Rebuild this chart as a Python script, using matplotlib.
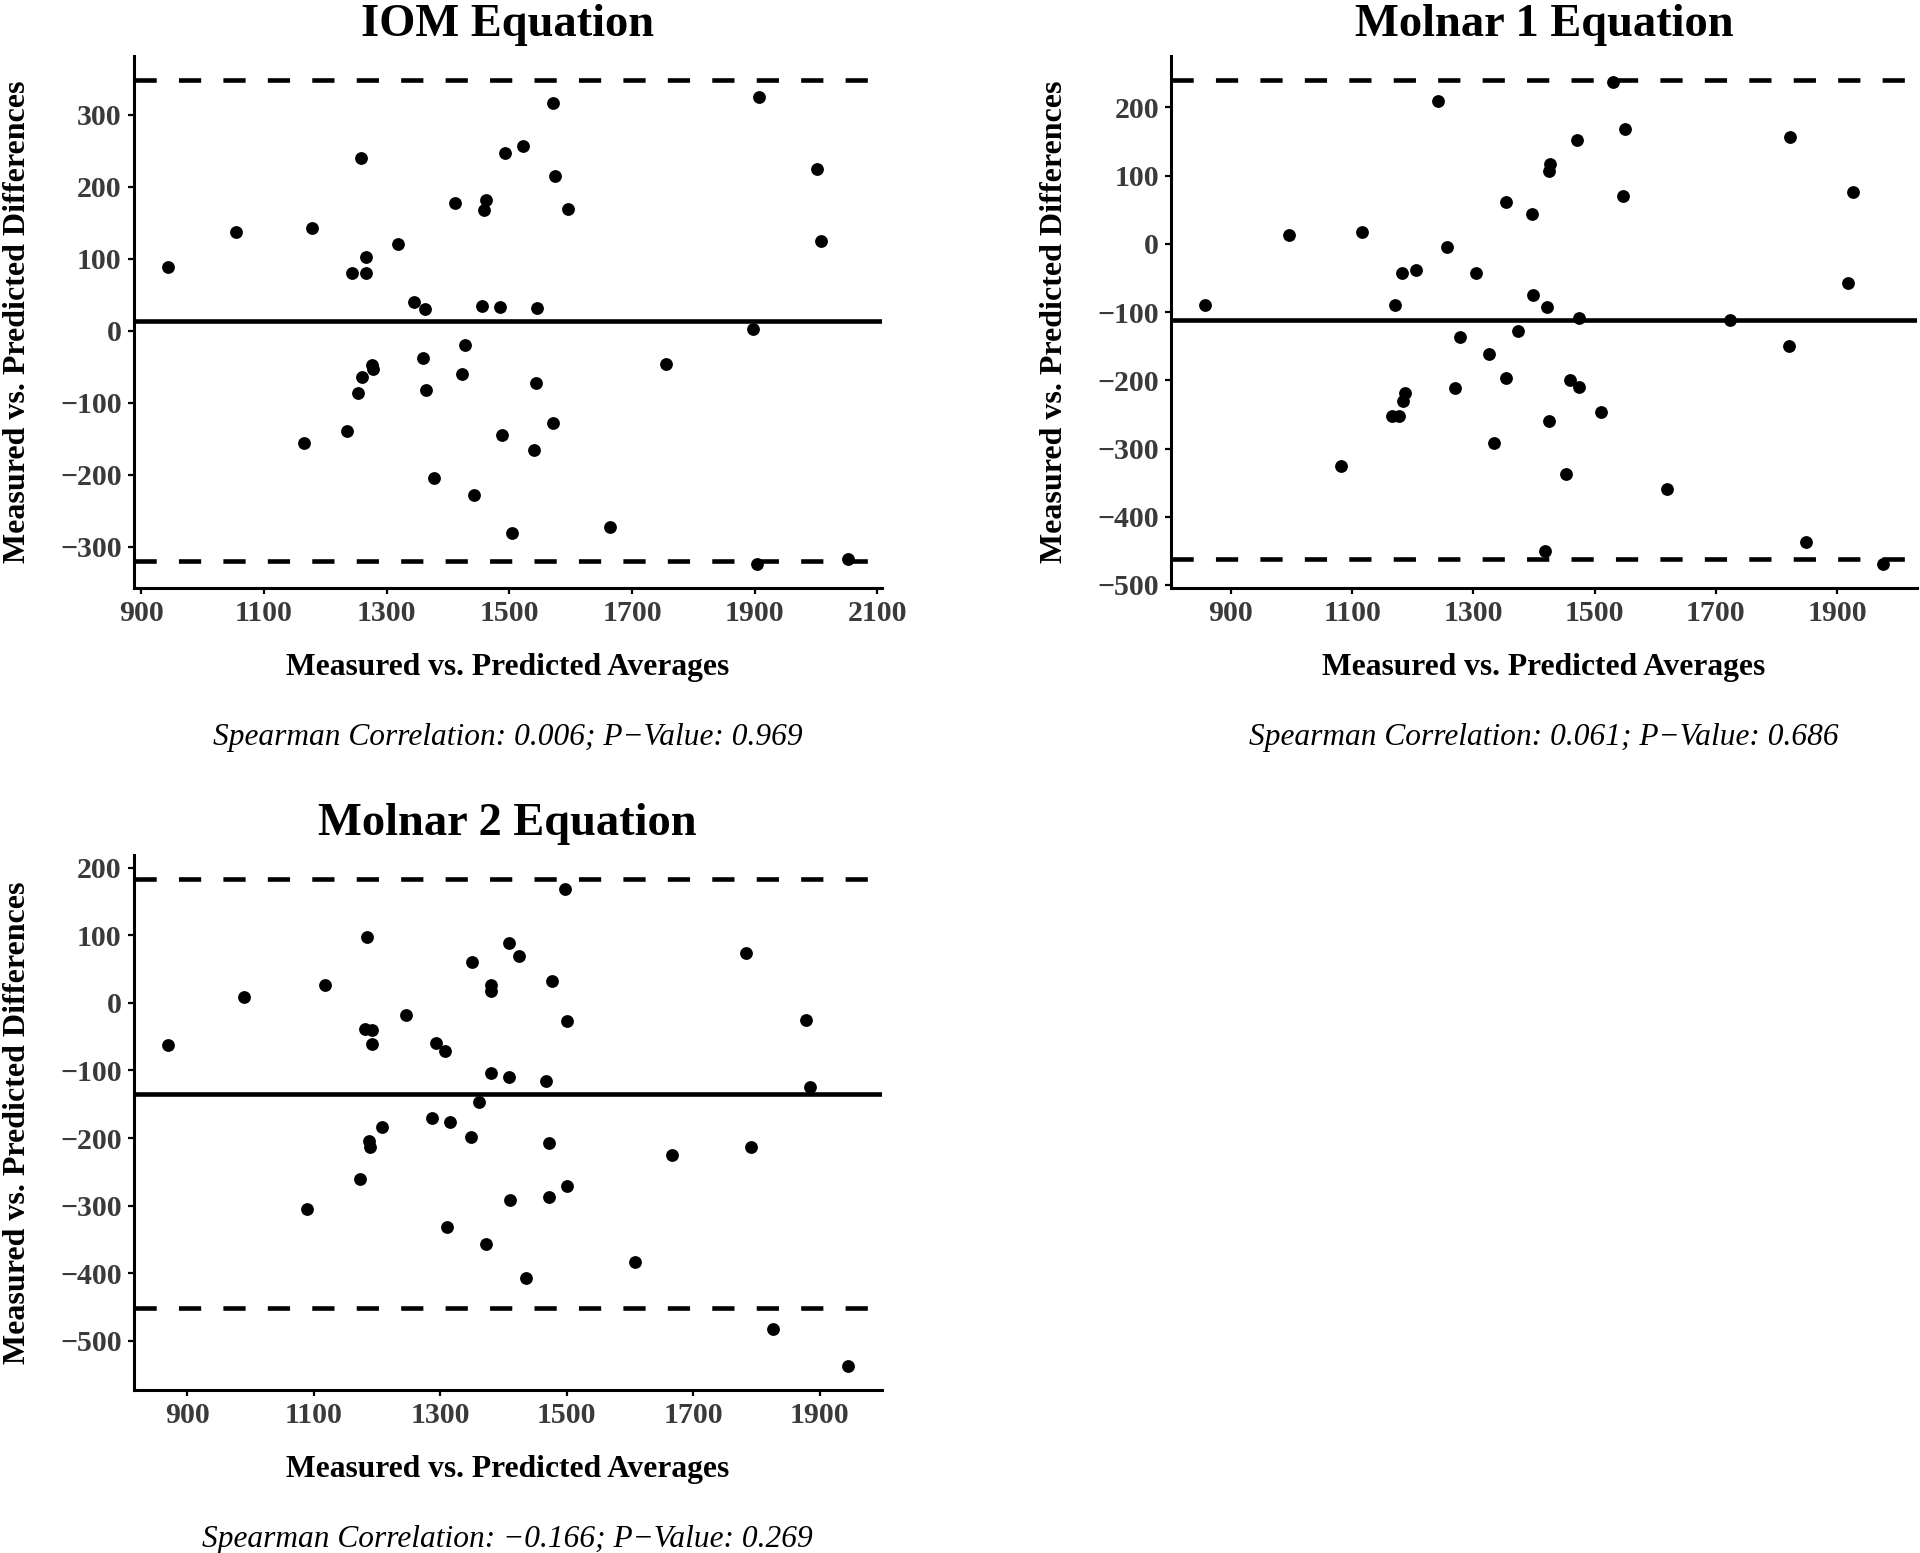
import numpy as np
import matplotlib
matplotlib.use('Agg')
import matplotlib.pyplot as plt
from matplotlib.ticker import MultipleLocator

plt.rcParams['font.family'] = ['Liberation Serif', 'DejaVu Serif']
plt.rcParams['font.weight'] = 'bold'
plt.rcParams['lines.scale_dashes'] = False

# IOM equation: mean of measured & predicted vs. their difference
iom_avg = [943, 1054, 1179, 1258, 1244, 1266, 1266, 1319, 1345, 1362,
           1412, 1462, 1459, 1493, 1523, 1572, 1574, 1456, 1485, 1545,
           1428, 1359, 1365, 1423, 1276, 1278, 1260, 1254, 1235, 1165,
           1378, 1442, 1505, 1544, 1572, 1488, 1540,
           1596, 1907, 2002, 2008, 1898, 1755, 1664, 1903, 2052]
iom_diff = [88, 137, 143, 240, 80, 102, 80, 120, 40, 30,
            177, 181, 168, 247, 257, 316, 215, 34, 33, 31,
            -20, -38, -82, -60, -48, -53, -65, -86, -140, -156,
            -205, -228, -281, -73, -128, -145, -166,
            169, 325, 225, 125, 2, -46, -273, -324, -317]
iom_bias, iom_upper, iom_lower = 14, 348, -320

# Molnar 1 equation
m1_avg = [857, 996, 1117, 1241, 1256, 1183, 1206, 1170, 1278, 1270,
          1187, 1184, 1166, 1178, 1081,
          1530, 1550, 1471, 1427, 1424, 1547, 1354, 1396, 1822, 1927,
          1304, 1399, 1421, 1475, 1723, 1918, 1325, 1373, 1821, 1353,
          1459, 1474, 1511, 1424, 1334, 1452, 1620, 1848, 1418, 1976]
m1_diff = [-90, 13, 18, 209, -4, -43, -39, -90, -136, -211,
           -219, -231, -253, -253, -325,
           238, 168, 153, 117, 107, 70, 61, 44, 157, 76,
           -42, -75, -92, -108, -111, -57, -161, -127, -149, -196,
           -199, -210, -246, -260, -292, -337, -360, -437, -450, -469]
m1_bias, m1_upper, m1_lower = -111, 240, -462

# Molnar 2 equation
m2_avg = [869, 990, 1118, 1184, 1182, 1193, 1193, 1246, 1293, 1307,
          1350, 1409, 1424, 1381, 1380, 1477, 1381, 1409, 1467, 1361,
          1288, 1315, 1208, 1187, 1189, 1349, 1472, 1173, 1089, 1410,
          1473, 1311, 1373, 1436,
          1498, 1500, 1783, 1878, 1885, 1666, 1791, 1500, 1609, 1827, 1945]
m2_diff = [-62, 9, 26, 98, -38, -40, -61, -18, -59, -71,
           61, 88, 69, 27, 18, 32, -104, -109, -116, -147,
           -170, -176, -183, -205, -213, -199, -207, -261, -305, -291,
           -288, -332, -357, -407,
           169, -27, 74, -25, -125, -225, -214, -271, -383, -483, -537]
m2_bias, m2_upper, m2_lower = -135, 183, -452

titles = ['IOM Equation', 'Molnar 1 Equation', 'Molnar 2 Equation']
captions = ['Spearman Correlation: 0.006; P\u2212Value: 0.969',
            'Spearman Correlation: 0.061; P\u2212Value: 0.686',
            'Spearman Correlation: \u22120.166; P\u2212Value: 0.269']

W, H = 1920, 1553
fig = plt.figure(figsize=(W / 100, H / 100), dpi=100)


def px_box(left, top, right, bottom):
    return [left / W, 1 - bottom / H, (right - left) / W, (bottom - top) / H]


def draw_panel(ax, avg, diff, bias, upper, lower, title, caption):
    ax.axhline(bias, color='black', lw=3.3, zorder=2)
    for lim in (upper, lower):
        ax.axhline(lim, color='black', lw=3.3, linestyle=(0, (16, 16)), zorder=2)
    ax.scatter(avg, diff, s=85, color='black', linewidths=0, zorder=3)

    # ggplot style 5% expansion around data and reference lines
    x0, x1 = min(avg), max(avg)
    y0, y1 = min(min(diff), lower), max(max(diff), upper)
    ax.set_xlim(x0 - 0.05 * (x1 - x0), x1 + 0.05 * (x1 - x0))
    ax.set_ylim(y0 - 0.05 * (y1 - y0), y1 + 0.05 * (y1 - y0))
    ax.xaxis.set_major_locator(MultipleLocator(200, offset=100))
    ax.yaxis.set_major_locator(MultipleLocator(100))

    for side in ['top', 'right']:
        ax.spines[side].set_visible(False)
    for side in ['left', 'bottom']:
        ax.spines[side].set_linewidth(2.2)
    ax.tick_params(length=4.5, width=1.6, labelsize=21.5, labelcolor='#3A3A3A', pad=4)

    ax.annotate(title, xy=(0.5, 1), xycoords='axes fraction', xytext=(0, 31),
                textcoords='offset pixels', ha='center', va='center', fontsize=33.5)
    ax.annotate('Measured vs. Predicted Averages', xy=(0.5, 0), xycoords='axes fraction',
                xytext=(0, -80), textcoords='offset pixels', ha='center', va='center',
                fontsize=22.7)
    ax.annotate('Measured vs. Predicted Differences', xy=(0, 0.5), xycoords='axes fraction',
                xytext=(-116, 0), textcoords='offset pixels', ha='center', va='center',
                rotation=90, fontsize=23)
    ax.annotate(caption, xy=(0.5, 0), xycoords='axes fraction', xytext=(0, -149),
                textcoords='offset pixels', ha='center', va='center', fontsize=22.6,
                style='italic', fontweight='normal')


ax1 = fig.add_axes(px_box(133.5, 56, 882, 588))
draw_panel(ax1, iom_avg, iom_diff, iom_bias, iom_upper, iom_lower, titles[0], captions[0])

ax2 = fig.add_axes(px_box(1171, 56, 1917, 588))
draw_panel(ax2, m1_avg, m1_diff, m1_bias, m1_upper, m1_lower, titles[1], captions[1])

ax3 = fig.add_axes(px_box(133.5, 855, 882, 1390))
draw_panel(ax3, m2_avg, m2_diff, m2_bias, m2_upper, m2_lower, titles[2], captions[2])

fig.savefig('out.png', dpi=100)
